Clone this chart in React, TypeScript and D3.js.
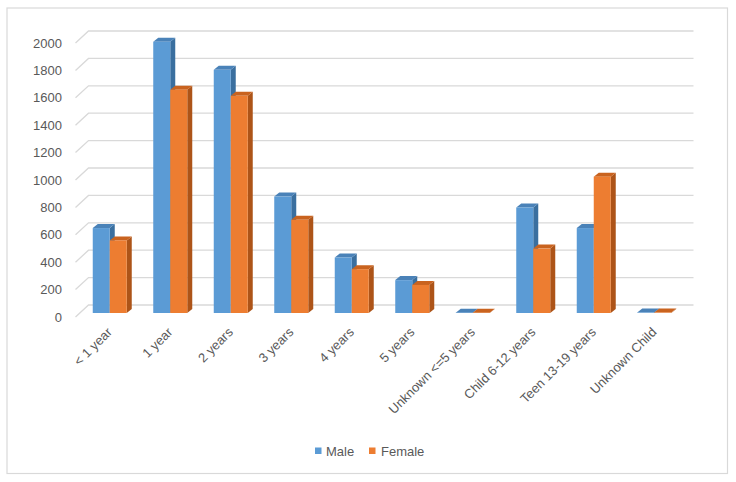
import React from "react";
import * as d3 from "d3";

const categories = ["< 1 year", "1 year", "2 years", "3 years", "4 years", "5 years", "Unknown <=5 years", "Child 6-12 years", "Teen 13-19 years", "Unknown Child"];
const seriesNames = ["Male", "Female"];
const maleValues = [620, 1980, 1775, 850, 405, 240, 2, 770, 620, 3];
const femaleValues = [530, 1630, 1585, 680, 320, 205, 2, 470, 995, 3];
const yTicks = [0, 200, 400, 600, 800, 1000, 1200, 1400, 1600, 1800, 2000];

const W = 736;
const H = 482;
const FONT = "'Liberation Sans', Arial, sans-serif";
const TEXT = "#595959";
const GRID = "#d9d9d9";

const colors = {
  Male: { front: "#5b9bd5", side: "#3a6f9f", top: "#4a82b8" },
  Female: { front: "#ed7d31", side: "#ad5418", top: "#c9631f" },
} as Record<string, { front: string; side: string; top: string }>;

export default function App() {
  const frontLeft = 75.5;
  const frontRight = 680.5;
  const wallDx = 13;
  const wallDy = 12;
  const barOffX = 4;
  const barOffY = 4;
  const depthX = 5;
  const depthY = 4;

  const y = d3.scaleLinear().domain([0, 2000]).range([317, 43]);
  const x = d3
    .scaleBand<string>()
    .domain(categories)
    .range([frontLeft, frontRight])
    .paddingInner(26.5 / 60.5)
    .paddingOuter(26.5 / 60.5 / 2);
  const xs = d3.scaleBand<string>().domain(seriesNames).range([0, x.bandwidth()]);

  const data = [maleValues, femaleValues];

  return (
    <svg
      width={W}
      height={H}
      style={{ position: "absolute", left: 0, top: 0, background: "#fff" }}
      fontFamily={FONT}
    >
      <rect x={0} y={0} width={W} height={H} fill="#fff" />
      <rect x={7} y={8} width={720.5} height={465.5} fill="#fff" stroke={GRID} strokeWidth={1.2} />

      {yTicks.map((t) => {
        const yf = y(t);
        const d = `M${frontLeft},${yf}L${frontLeft + wallDx},${yf - wallDy}L${frontRight + wallDx},${yf - wallDy}`;
        return <path key={t} d={d} fill="none" stroke={GRID} strokeWidth={1.3} />;
      })}

      {yTicks.map((t) => (
        <text key={"l" + t} x={62} y={y(t)} dy="0.35em" textAnchor="end" fontSize={13} fill={TEXT}>
          {t}
        </text>
      ))}

      {categories.map((c, i) => (
        <g key={c}>
          {seriesNames.map((s, si) => {
            const v = data[si][i];
            const x0 = (x(c) as number) + (xs(s) as number) + barOffX;
            const w = xs.bandwidth();
            const yb = y(0) - barOffY;
            const yt = y(v) - barOffY;
            const col = colors[s];
            const side = `M${x0 + w},${yt}L${x0 + w + depthX},${yt - depthY}L${x0 + w + depthX},${yb - depthY}L${x0 + w},${yb}Z`;
            const top = `M${x0},${yt}L${x0 + depthX},${yt - depthY}L${x0 + w + depthX},${yt - depthY}L${x0 + w},${yt}Z`;
            return (
              <g key={s}>
                <path d={side} fill={col.side} />
                <path d={top} fill={col.top} />
                <rect x={x0} y={yt} width={w} height={Math.max(0, yb - yt)} fill={col.front} />
              </g>
            );
          })}
        </g>
      ))}

      {categories.map((c) => {
        const cx = (x(c) as number) + x.bandwidth() / 2 + barOffX + 3;
        const cy = 333;
        return (
          <text
            key={"x" + c}
            x={cx}
            y={cy}
            textAnchor="end"
            fontSize={13}
            fill={TEXT}
            transform={`rotate(-45,${cx},${cy})`}
          >
            {c}
          </text>
        );
      })}

      <g>
        <rect x={315} y={447.5} width={6.5} height={6.5} fill={colors.Male.front} />
        <text x={326} y={451} dy="0.35em" fontSize={13} fill={TEXT}>
          Male
        </text>
        <rect x={369} y={447.5} width={6.5} height={6.5} fill={colors.Female.front} />
        <text x={381} y={451} dy="0.35em" fontSize={13} fill={TEXT}>
          Female
        </text>
      </g>
    </svg>
  );
}
